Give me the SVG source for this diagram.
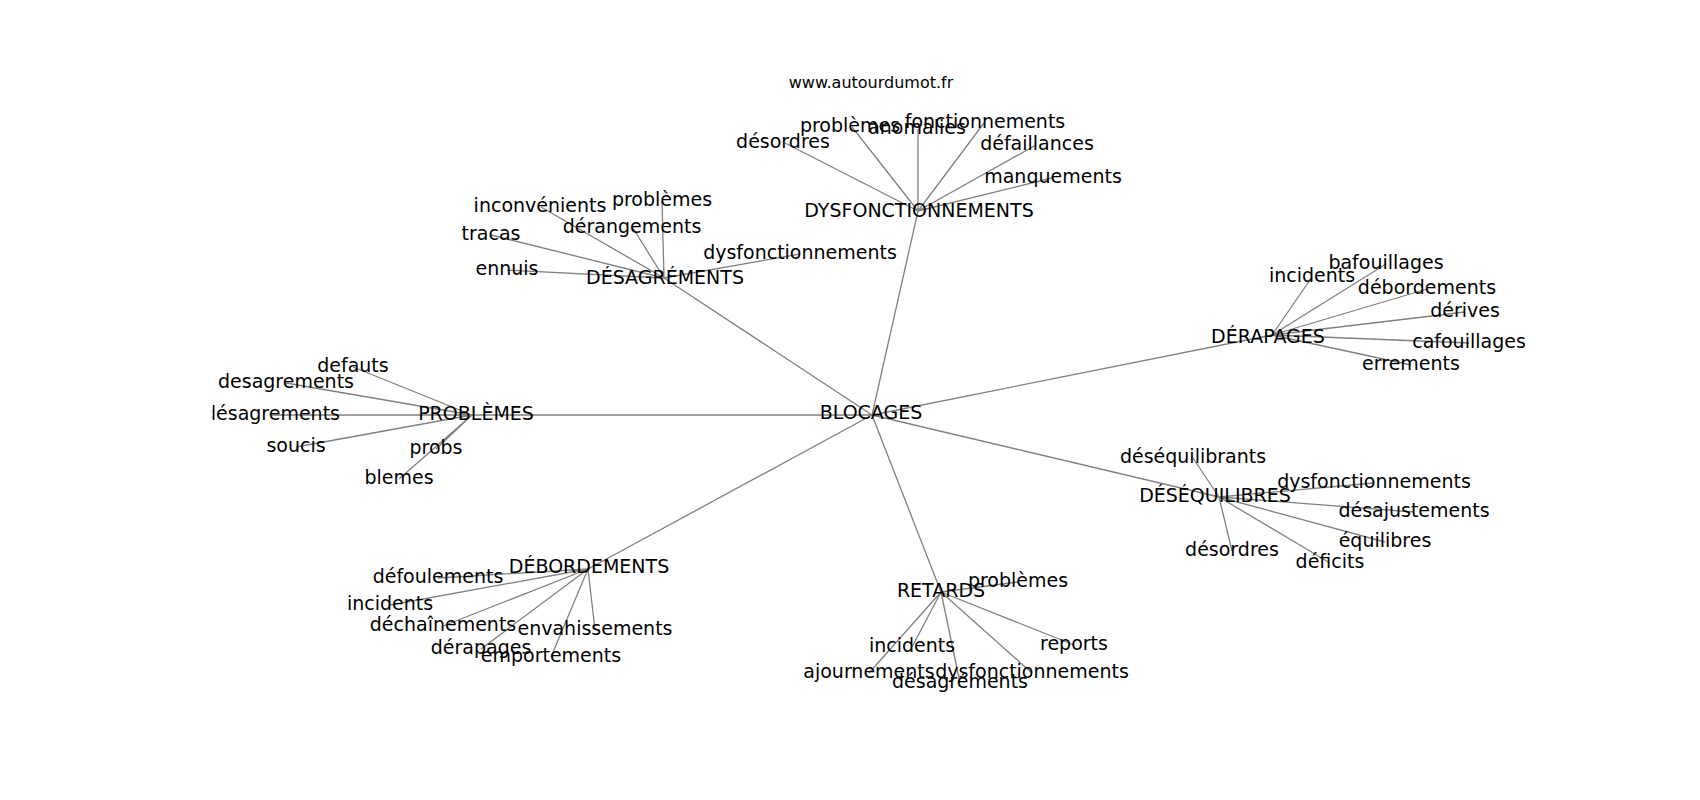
<svg xmlns="http://www.w3.org/2000/svg" width="1700" height="800" viewBox="0 0 1700 800">
<style>
.e{stroke:#808080;stroke-width:1.3;fill:none}
.t{font-family:"DejaVu Sans","Liberation Sans",sans-serif;font-size:19px;text-anchor:middle;fill:#000}
.title{font-family:"DejaVu Sans","Liberation Sans",sans-serif;font-size:16px;text-anchor:middle;fill:#000}
</style>
<defs><clipPath id="ax"><rect x="212.5" y="96" width="1317.5" height="608"/></clipPath></defs>
<rect width="1700" height="800" fill="#fff"/>
<text class="title" x="871" y="88">www.autourdumot.fr</text>
<g clip-path="url(#ax)">
<g id="connectors">
<path class="e" d="M872 415L918 211M872 415L664 278M872 415L472 415M872 415L1272 335M872 415L1219 497M872 415L588 569M872 415L941 592"/>
<path class="e" d="M918 211L785 143M918 211L852 127M918 211L918 129M918 211L984 123M918 211L1036 145M918 211L1052 178"/>
<path class="e" d="M664 278L541 207M664 278L662 201M664 278L633 228M664 278L491 235M664 278L507 270M664 278L800 254"/>
<path class="e" d="M472 415L353 367M472 415L286 383M472 415L272 415M472 415L296 447M472 415L436 449M472 415L399 479"/>
<path class="e" d="M1272 335L1312 277M1272 335L1386 264M1272 335L1427 289M1272 335L1465 312M1272 335L1469 343M1272 335L1411 365"/>
<path class="e" d="M1219 497L1193 458M1219 497L1374 483M1219 497L1414 512M1219 497L1385 542M1219 497L1330 563M1219 497L1232 551"/>
<path class="e" d="M588 569L438 578M588 569L390 605M588 569L443 626M588 569L595 630M588 569L481 649M588 569L551 657"/>
<path class="e" d="M941 592L1018 582M941 592L912 647M941 592L1074 645M941 592L869 673M941 592L960 683M941 592L1032 673"/>
</g>
<g id="n-blocages"><text class="t" x="871" y="419">BLOCAGES</text></g>
<g id="n-dysfonctionnements"><text class="t" x="919" y="216.5">DYSFONCTIONNEMENTS</text></g>
<g id="n-desagrements"><text class="t" x="665" y="284">DÉSAGRÉMENTS</text></g>
<g id="n-problemes"><text class="t" x="476" y="420">PROBLÈMES</text></g>
<g id="n-derapages"><text class="t" x="1268" y="343">DÉRAPAGES</text></g>
<g id="n-desequilibres"><text class="t" x="1215" y="502">DÉSÉQUILIBRES</text></g>
<g id="n-debordements"><text class="t" x="589" y="573">DÉBORDEMENTS</text></g>
<g id="n-retards"><text class="t" x="941" y="597">RETARDS</text></g>

<g id="l-dys-desordres"><text class="t" x="783" y="148">désordres</text></g>
<g id="l-dys-problemes"><text class="t" x="850" y="132">problèmes</text></g>
<g id="l-dys-anomalies"><text class="t" x="917" y="134">anomalies</text></g>
<g id="l-dys-fonctionnements"><text class="t" x="985" y="128">fonctionnements</text></g>
<g id="l-dys-defaillances"><text class="t" x="1037" y="150">défaillances</text></g>
<g id="l-dys-manquements"><text class="t" x="1053" y="183">manquements</text></g>

<g id="l-des-inconvenients"><text class="t" x="540" y="212">inconvénients</text></g>
<g id="l-des-problemes"><text class="t" x="662" y="206">problèmes</text></g>
<g id="l-des-derangements"><text class="t" x="632" y="233">dérangements</text></g>
<g id="l-des-tracas"><text class="t" x="491" y="240">tracas</text></g>
<g id="l-des-ennuis"><text class="t" x="507" y="275">ennuis</text></g>
<g id="l-des-dysfonctionnements"><text class="t" x="800" y="259">dysfonctionnements</text></g>

<g id="l-pro-defauts"><text class="t" x="353" y="372">defauts</text></g>
<g id="l-pro-desagrements1"><text class="t" x="286" y="388">desagrements</text></g>
<g id="l-pro-desagrements2"><text class="t" x="272" y="420">désagrements</text></g>
<g id="l-pro-soucis"><text class="t" x="296" y="452">soucis</text></g>
<g id="l-pro-probs"><text class="t" x="436" y="454">probs</text></g>
<g id="l-pro-blemes"><text class="t" x="399" y="484">blemes</text></g>

<g id="l-der-incidents"><text class="t" x="1312" y="282">incidents</text></g>
<g id="l-der-bafouillages"><text class="t" x="1386" y="269">bafouillages</text></g>
<g id="l-der-debordements"><text class="t" x="1427" y="294">débordements</text></g>
<g id="l-der-derives"><text class="t" x="1465" y="317">dérives</text></g>
<g id="l-der-cafouillages"><text class="t" x="1469" y="348">cafouillages</text></g>
<g id="l-der-errements"><text class="t" x="1411" y="370">errements</text></g>

<g id="l-deq-desequilibrants"><text class="t" x="1193" y="463">déséquilibrants</text></g>
<g id="l-deq-dysfonctionnements"><text class="t" x="1374" y="488">dysfonctionnements</text></g>
<g id="l-deq-desajustements"><text class="t" x="1414" y="517">désajustements</text></g>
<g id="l-deq-equilibres"><text class="t" x="1385" y="547">équilibres</text></g>
<g id="l-deq-deficits"><text class="t" x="1330" y="568">déficits</text></g>
<g id="l-deq-desordres"><text class="t" x="1232" y="556">désordres</text></g>

<g id="l-deb-defoulements"><text class="t" x="438" y="583">défoulements</text></g>
<g id="l-deb-incidents"><text class="t" x="390" y="610">incidents</text></g>
<g id="l-deb-dechainements"><text class="t" x="443" y="631">déchaînements</text></g>
<g id="l-deb-envahissements"><text class="t" x="595" y="635">envahissements</text></g>
<g id="l-deb-derapages"><text class="t" x="481" y="654">dérapages</text></g>
<g id="l-deb-emportements"><text class="t" x="551" y="662">emportements</text></g>

<g id="l-ret-problemes"><text class="t" x="1018" y="587">problèmes</text></g>
<g id="l-ret-incidents"><text class="t" x="912" y="652">incidents</text></g>
<g id="l-ret-reports"><text class="t" x="1074" y="650">reports</text></g>
<g id="l-ret-ajournements"><text class="t" x="869" y="678">ajournements</text></g>
<g id="l-ret-desagrements"><text class="t" x="960" y="688">désagréments</text></g>
<g id="l-ret-dysfonctionnements"><text class="t" x="1032" y="678">dysfonctionnements</text></g>
</g>
</svg>
